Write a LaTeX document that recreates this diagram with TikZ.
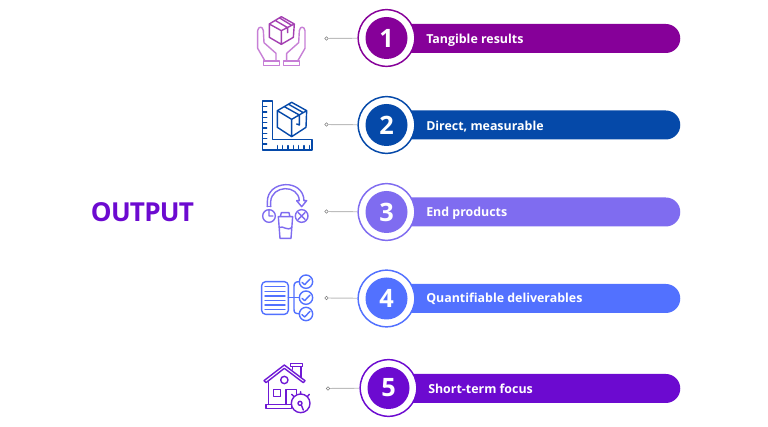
\documentclass[tikz,border=0pt]{standalone}
\usepackage{fontspec}
\setmainfont{Open Sans}
\usetikzlibrary{shapes.misc,calc}
\definecolor{cA}{HTML}{860099}
\definecolor{cB}{HTML}{0549A9}
\definecolor{cC}{HTML}{7F6CF0}
\definecolor{cD}{HTML}{5271FF}
\definecolor{cE}{HTML}{6C0AD0}
\definecolor{cTitle}{HTML}{6C0AD0}
\definecolor{cHand}{HTML}{C77FD6}
\definecolor{cLine}{HTML}{BDBDBD}
\tikzset{
 ringbox/.style={circle,draw=#1,fill=white,line width=1.1pt,minimum size=42.5pt,inner sep=0pt},
 discbox/.style={circle,fill=#1,minimum size=31.5pt,inner sep=0pt,text=white,font=\bfseries\fontsize{19}{22}\selectfont},
 pillbox/.style={rounded rectangle,rounded rectangle left arc=none,fill=#1,minimum height=21.75pt,inner sep=0pt},
 labeltext/.style={anchor=west,text=white,font=\bfseries\fontsize{9.3}{11}\selectfont,inner sep=0pt},
 dotnode/.style={circle,draw=gray,fill=white,line width=.5pt,minimum size=2.6pt,inner sep=0pt},
 connector/.style={draw=cLine,line width=.7pt},
 iconline/.style={draw=#1,line width=1.05pt,line join=round,line cap=round},
}
\begin{document}
\begin{tikzpicture}[x=.75pt,y=-.75pt]
\useasboundingbox[fill=white] (0,0) rectangle (768,427);
\node[anchor=center,text=cTitle,inner sep=0pt,font=\fontsize{19.6}{22}\selectfont\bfseries] (title) at (142.5,212.5) {\addfontfeature{LetterSpace=-3}OUTPUT};

% rows
\node[pillbox=cA,minimum width=220.5pt,anchor=west] (p1) at (386,38.5) {};
\node[pillbox=cB,minimum width=220.5pt,anchor=west] (p2) at (386,125) {};
\node[pillbox=cC,minimum width=220.5pt,anchor=west] (p3) at (386,212) {};
\node[pillbox=cD,minimum width=220.5pt,anchor=west] (p4) at (386,298.5) {};
\node[pillbox=cE,minimum width=219pt,anchor=west] (p5) at (388,388.5) {};
\node[ringbox=cA] (r1) at (386.5,38) {};
\node[ringbox=cB] (r2) at (386.5,125) {};
\node[ringbox=cC] (r3) at (386.5,212) {};
\node[ringbox=cD] (r4) at (386.5,298.5) {};
\node[ringbox=cE] (r5) at (388.5,388) {};
\node[discbox=cA] (n1) at (r1) {1};
\node[discbox=cB] (n2) at (r2) {2};
\node[discbox=cC] (n3) at (r3) {3};
\node[discbox=cD] (n4) at (r4) {4};
\node[discbox=cE] (n5) at (r5) {5};
\node[labeltext] (t1) at (426,40) {Tangible results};
\node[labeltext] (t2) at (426,126.5) {Direct, measurable};
\node[labeltext] (t3) at (426,213) {End products};
\node[labeltext] (t4) at (426,299) {Quantifiable deliverables};
\node[labeltext] (t5) at (428,389) {Short-term focus};
\node[dotnode] (d1) at (326.5,38.5) {};
\node[dotnode] (d2) at (326.5,124.5) {};
\node[dotnode] (d3) at (326.5,211.5) {};
\node[dotnode] (d4) at (326.5,298) {};
\node[dotnode] (d5) at (328,388.5) {};
\draw[connector] (d1) -- (r1);
\draw[connector] (d2) -- (r2);
\draw[connector] (d3) -- (r3);
\draw[connector] (d4) -- (r4);
\draw[connector] (d5) -- (r5);

% icon 1
\begin{scope}[x=.25pt,y=-.25pt,shift={(180pt,0pt)},iconline=cHand]
 \draw[draw=cA!75!white] (124,50)--(163,72)--(160,112)--(124,133)--(88,112)--(88,72)--cycle (88,72)--(124,92)--(163,72) (124,92)--(124,133) (105,61)--(143,83)--(143,98) (119,54)--(155,76);
 \draw (75,183)--(53,145)--(53,92) .. controls (55,78) and (68,78) .. (70,92) -- (72,128)--(108,160)--(108,183);
 \draw (173,183)--(195,145)--(195,92) .. controls (193,78) and (180,78) .. (178,92) -- (176,128)--(140,160)--(140,183);
 \draw (70,183) rectangle (118,197) (130,183) rectangle (178,197);
\end{scope}

% icon 2
\begin{scope}[x=.25pt,y=-.25pt,shift={(180pt,0pt)},iconline=cB]
 \draw (68,303)--(98,303)--(98,418)--(216,418)--(216,450)--(68,450)--cycle;
 \draw (155,307)--(200,332)--(198,382)--(155,410)--(112,382)--(112,332)--cycle (112,332)--(155,358)--(200,332) (155,358)--(155,410) (133,320)--(178,345)--(178,375)--(170,372) (146,313)--(190,338);
 \foreach \yy in {320,336,352,368,384,400,416,432} \draw (68,\yy)--(80,\yy);
 \foreach \xx in {112,128,144,160,176,192,208} \draw (\xx,450)--(\xx,437);
\end{scope}

% icon 3
\begin{scope}[x=.25pt,y=-.25pt,shift={(180pt,-127.5pt)},iconline=cC]
 \draw (82,110)--(82,95) .. controls (82,30) and (190,25) .. (192,92);
 \draw (92,110)--(92,95) .. controls (95,45) and (175,42) .. (178,92)--(170,92)--(185,110)--(200,92)--(192,92);
 \draw (82,110)--(92,110);
 \draw (87,138) circle [radius=19] (87,122)--(87,138)--(99,138);
 \draw (185,138) circle [radius=19] (175,128)--(195,148) (195,128)--(175,148);
 \draw (124,128)--(147,128)--(150,140)--(121,140)--cycle (115,140)--(158,140)--(153,205)--(120,205)--cycle (117,173) .. controls (130,165) and (140,185) .. (156,172);
\end{scope}

% icon 4
\begin{scope}[x=.25pt,y=-.25pt,shift={(180pt,-127.5pt)},iconline=cD]
 \draw[rounded corners=3pt] (65,335) rectangle (145,433);
 \foreach \yy in {350,364,378,392,405,418} \draw (75,\yy)--(135,\yy);
 \draw (145,383)--(178,383);
 \draw (178,335) .. controls (165,335) and (162,340) .. (162,350) -- (162,418) .. controls (162,428) and (165,431) .. (178,431);
 \foreach \yy in {335,383,432}{
  \draw (198,\yy) circle [radius=20];
  \draw (186,\yy+2)--(194,\yy+9)--(210,\yy-8);
 }
\end{scope}

% icon 5
\begin{scope}[x=.25pt,y=-.25pt,shift={(180pt,-255pt)},iconline=cE!85!cC]
 \draw (72,122)--(133,75)--(195,122)--(190,128)--(133,85)--(78,128)--cycle;
 \draw (152,70) rectangle (188,80) (158,80)--(158,88) (183,80)--(183,112);
 \draw (85,125)--(85,193) (78,193) rectangle (155,205);
 \draw (133,120) circle [radius=11];
 \draw (100,148) rectangle (122,170);
 \draw (138,193)--(138,148)--(170,148)--(170,162);
 \draw (182,190) circle [radius=28];
 \draw (180,190) circle [radius=6] (184,195)--(190,210);
 \draw (182,155)--(182,162) (155,163)--(162,170) (208,163)--(202,170);
\end{scope}
\end{tikzpicture}
\end{document}
